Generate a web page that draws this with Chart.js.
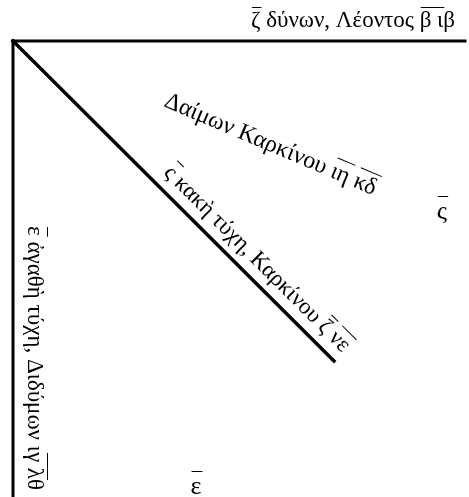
<!DOCTYPE html>
<html>
<head>
<meta charset="utf-8">
<script src="https://cdn.jsdelivr.net/npm/chart.js@4.4.0/dist/chart.umd.min.js"></script>
<style>
  html, body { margin: 0; padding: 0; background: #fff; }
  #wrap { width: 469px; height: 497px; }
</style>
</head>
<body>
<div id="wrap"><canvas id="diagram"></canvas></div>
<script>
// rays of the figure, all drawn out from the corner (0, 0)
const rayNames = ['δύνων', 'κακὴ τύχη', 'ἀγαθὴ τύχη'];
const rayEndX = [452, 321, 0];
const rayEndY = [0, 320, 456];

// inscriptions; a part in [..] carries an overline (numeral)
const labelTexts = [
  '[ζ] δύνων, Λέοντος [β ι]β',
  'Δαίμων Καρκίνου [ιη] [κδ]',
  '[ς] κακὴ τύχη, Καρκίνου [ζ] [νε]',
  '[ε] ἀγαθὴ τύχη, Διδύμων ι[γ λ]θ',
  '[ς]',
  '[ε]'
];

// where each inscription sits (figure units), its angle and alignment
const labelLayout = [
  {x: 442, y: -14, angle: 0, align: 'right', size: 23},
  {x: 150, y: 65, angle: 23, align: 'left', size: 24},
  {x: 329, y: 312, angle: 45, align: 'right', size: 23},
  {x: 15, y: 449, angle: 90, align: 'right', size: 23},
  {x: 429, y: 178, angle: 0, align: 'center', size: 26},
  {x: 183, y: 453, angle: 0, align: 'center', size: 26}
];

const labelPlugin = {
  id: 'inscriptions',
  afterDatasetsDraw(chart) {
    const {ctx, scales: {x, y}} = chart;
    labelTexts.forEach((text, i) => {
      const l = labelLayout[i];
      ctx.save();
      ctx.translate(x.getPixelForValue(l.x), y.getPixelForValue(l.y));
      ctx.rotate(l.angle * Math.PI / 180);
      ctx.font = l.size + 'px "Liberation Serif", "DejaVu Serif", serif';
      ctx.fillStyle = '#000';
      ctx.strokeStyle = '#000';
      ctx.lineWidth = 1;
      ctx.textBaseline = 'alphabetic';
      ctx.textAlign = 'left';

      const parts = text.split(/(\[[^\]]*\])/).filter(Boolean);
      const plain = parts.map(p => p.replace(/[\[\]]/g, '')).join('');
      const total = ctx.measureText(plain).width;
      let cx = 0;
      if (l.align === 'right') cx = -total;
      if (l.align === 'center') cx = -total / 2;

      parts.forEach(p => {
        const bar = p.startsWith('[');
        const t = bar ? p.slice(1, -1) : p;
        const w = ctx.measureText(t).width;
        ctx.fillText(t, cx, 0);
        if (bar) {
          const by = Math.round(-l.size * 0.88) + 0.5;
          ctx.beginPath();
          ctx.moveTo(cx + 1, by);
          ctx.lineTo(cx + w + 1, by);
          ctx.stroke();
        }
        cx += w;
      });
      ctx.restore();
    });
  }
};

new Chart(document.getElementById('diagram'), {
  type: 'scatter',
  data: {
    datasets: rayNames.map((name, i) => ({
      label: name,
      data: [{x: 0, y: 0}, {x: rayEndX[i], y: rayEndY[i]}],
      showLine: true,
      borderColor: '#000',
      borderWidth: i === 1 ? 3.5 : 3,
      borderCapStyle: 'square',
      pointRadius: 0,
      fill: false
    }))
  },
  options: {
    responsive: true,
    maintainAspectRatio: false,
    animation: false,
    layout: {padding: 0},
    scales: {
      x: {type: 'linear', min: -13, max: 456, display: false},
      y: {type: 'linear', min: -41, max: 456, reverse: true, display: false}
    },
    plugins: {
      legend: {display: false},
      tooltip: {enabled: false}
    }
  },
  plugins: [labelPlugin]
});
</script>
</body>
</html>
